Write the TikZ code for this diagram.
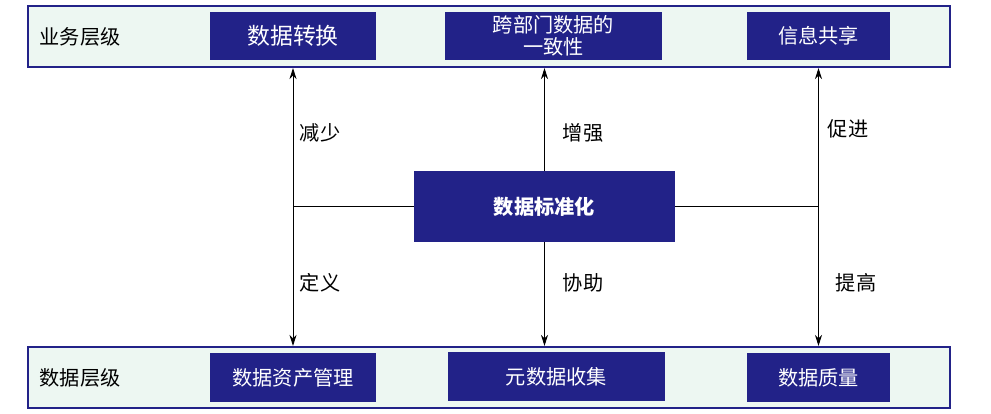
\documentclass[tikz,border=0pt]{standalone}
\usepackage{fontspec}
\setmainfont{Noto Sans CJK SC}
\usetikzlibrary{arrows.meta}
\definecolor{navy}{RGB}{34,34,136}
\definecolor{mint}{RGB}{237,247,242}

\begin{document}
\begin{tikzpicture}[x=0.2mm, y=-0.2mm, >={Stealth[length=2.2mm,width=1.4mm]},
  layer/.style={draw=navy, line width=1.2pt, fill=mint, minimum width=184.4mm, minimum height=12.2mm, inner sep=0pt},
  item/.style={fill=navy, text=white, align=center, inner sep=0pt, minimum height=9.6mm, font=\fontsize{11.5}{13}\selectfont},
  tag/.style={font=\fontsize{11.5}{13}\selectfont},
  link/.style={line width=0.5pt}]
\useasboundingbox (0,0) rectangle (991,414);

% two layer bands
\node[layer] (biz) at (489,36.5) {};
\node[layer] (dat) at (489,377.5) {};
\node[tag] (bizlbl) at (80,37) {业务层级};
\node[tag] (datlbl) at (80,378) {数据层级};

% business level items
\node[item, minimum width=33.2mm, font=\fontsize{13}{15}\selectfont] (trans) at (293,36) {数据转换};
\node[item, minimum width=43.4mm, font=\fontsize{11.5}{12.5}\selectfont] (consist) at (553.5,36) {跨部门数据的\\一致性};
\node[item, minimum width=28.6mm] (share) at (818.5,36) {信息共享};

% data level items
\node[item, minimum width=33.2mm, minimum height=9.8mm] (asset) at (293,377.5) {数据资产管理};
\node[item, minimum width=43.4mm, minimum height=9.8mm] (meta) at (556.5,376.5) {元数据收集};
\node[item, minimum width=28.6mm, minimum height=9.8mm] (quality) at (818.5,377.5) {数据质量};

% centre
\node[item, minimum width=52.2mm, minimum height=14.2mm, font=\fontsize{11.5}{13}\selectfont\bfseries] (std) at (544.5,206.5) {数据标准化};

% connectors
\draw[link, <->] (trans |- biz.south) -- (trans |- dat.north);
\draw[link] (trans |- std) -- (std.west);
\draw[link, ->] (std.north) -- (std |- biz.south);
\draw[link, ->] (std.south) -- (std |- dat.north);
\draw[link, <->] (share |- biz.south) -- (share |- dat.north);
\draw[link] (std.east) -- (share |- std);

\node[tag] (reduce) at (320,133) {减少};
\node[tag] (define) at (320,283) {定义};
\node[tag] (enhance) at (583,133) {增强};
\node[tag] (assist) at (583,283) {协助};
\node[tag] (promote) at (848,129) {促进};
\node[tag] (improve) at (856,283) {提高};
\end{tikzpicture}
\end{document}
